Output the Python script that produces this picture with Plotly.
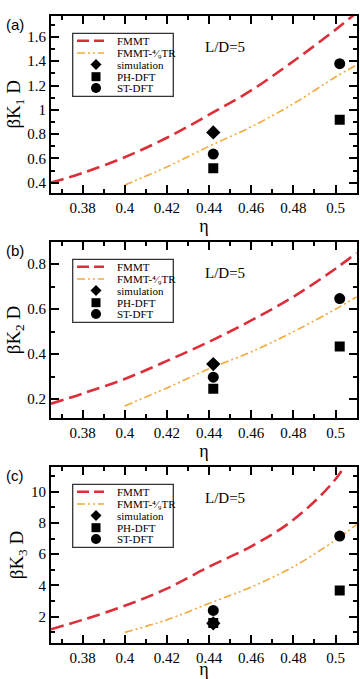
import plotly.graph_objects as go

# ---------------- data ----------------
eta_fmmt = [0.365, 0.38, 0.40, 0.42, 0.44, 0.46, 0.48, 0.50, 0.51]
k1_fmmt = [0.40, 0.48, 0.61, 0.77, 0.96, 1.16, 1.40, 1.66, 1.80]
k2_fmmt = [0.18, 0.225, 0.29, 0.37, 0.455, 0.55, 0.655, 0.78, 0.85]
k3_fmmt = [1.2, 1.8, 2.7, 3.8, 5.2, 6.5, 8.2, 10.8, 13.0]

eta_tr = [0.40, 0.42, 0.44, 0.46, 0.48, 0.50, 0.51]
k1_tr = [0.38, 0.53, 0.70, 0.86, 1.05, 1.27, 1.37]
k2_tr = [0.17, 0.25, 0.335, 0.41, 0.50, 0.60, 0.655]
k3_tr = [1.0, 1.8, 2.85, 3.9, 5.2, 6.9, 7.9]

eta_sim = [0.442]
eta_dft = [0.442, 0.502]
k1_sim = [0.814]
k1_ph = [0.518, 0.918]
k1_st = [0.636, 1.38]
k2_sim = [0.356]
k2_ph = [0.246, 0.434]
k2_st = [0.298, 0.647]
k3_sim = [1.58]
k3_ph = [1.6, 3.68]
k3_st = [2.4, 7.16]

panel_labels = ["(a)", "(b)", "(c)"]
y_titles = ["βK<sub>1</sub> D", "βK<sub>2</sub> D", "βK<sub>3</sub> D"]
legend_labels = ["FMMT", "FMMT-⁴⁄₉TR", "simulation", "PH-DFT", "ST-DFT"]
note_text = "L/D=5"

panels = [
    (k1_fmmt, k1_tr, k1_sim, k1_ph, k1_st),
    (k2_fmmt, k2_tr, k2_sim, k2_ph, k2_st),
    (k3_fmmt, k3_tr, k3_sim, k3_ph, k3_st),
]

# ---------------- layout geometry ----------------
W, H = 360, 679
X0, X1 = 51, 357
panel_px = [(15.7, 193.0), (241.7, 418.3), (466.7, 643.3)]
y_ranges = [[0.315, 1.775], [0.115, 0.90], [0.30, 11.6]]
y_dticks = [0.2, 0.2, 2]
y_minor = [0.1, 0.1, 1]
x_range = [0.365, 0.5102]

RED = "#dc2f3a"
ORANGE = "#f2a93b"
SERIF = "Liberation Serif"

fig = go.Figure()

for i, (kf, kt, ks, kp, kst) in enumerate(panels):
    xa = "x" if i == 0 else f"x{i+1}"
    ya = "y" if i == 0 else f"y{i+1}"
    fig.add_trace(go.Scatter(x=eta_fmmt, y=kf, mode="lines", line=dict(color=RED, width=2.6, dash="13px,6px", shape="spline"),
                             xaxis=xa, yaxis=ya, showlegend=False))
    fig.add_trace(go.Scatter(x=eta_tr, y=kt, mode="lines", line=dict(color=ORANGE, width=1.6, dash="8px,3px,2px,3px,2px,3px", shape="spline"),
                             xaxis=xa, yaxis=ya, showlegend=False))
    fig.add_trace(go.Scatter(x=eta_dft, y=kp, mode="markers", marker=dict(symbol="square", size=10, color="black"),
                             xaxis=xa, yaxis=ya, showlegend=False))
    fig.add_trace(go.Scatter(x=eta_dft, y=kst, mode="markers", marker=dict(symbol="circle", size=11, color="black"),
                             xaxis=xa, yaxis=ya, showlegend=False))
    fig.add_trace(go.Scatter(x=eta_sim, y=ks, mode="markers", marker=dict(symbol="diamond", size=11, color="black"),
                             xaxis=xa, yaxis=ya, showlegend=False))

axis_common = dict(
    showline=True, linecolor="black", linewidth=2, mirror="ticks",
    ticks="inside", ticklen=8, tickwidth=1.5, tickcolor="black",
    showgrid=False, zeroline=False,
    tickfont=dict(family=SERIF, size=15, color="black"),
)

layout = dict(width=W, height=H, margin=dict(l=0, r=0, t=0, b=0),
              plot_bgcolor="white", paper_bgcolor="white", showlegend=False)

shapes = []
annotations = []

for i in range(3):
    top, bot = panel_px[i]
    xk = "xaxis" if i == 0 else f"xaxis{i+1}"
    yk = "yaxis" if i == 0 else f"yaxis{i+1}"
    ya = "y" if i == 0 else f"y{i+1}"
    xa = "x" if i == 0 else f"x{i+1}"
    layout[xk] = dict(axis_common, domain=[X0 / W, X1 / W], range=x_range, anchor=ya,
                      tickvals=[0.38, 0.40, 0.42, 0.44, 0.46, 0.48, 0.50],
                      ticktext=["0.38", "0.4", "0.42", "0.44", "0.46", "0.48", "0.5"],
                      minor=dict(ticks="inside", ticklen=4, tickwidth=1.5, tickcolor="black", dtick=0.01, tick0=0.37),
                      title=dict(text="η", font=dict(family=SERIF, size=18, color="black"), standoff=1))
    layout[yk] = dict(axis_common, domain=[1 - bot / H, 1 - top / H], range=y_ranges[i], anchor=xa,
                      dtick=y_dticks[i], tick0=0,
                      minor=dict(ticks="inside", ticklen=4, tickwidth=1.5, tickcolor="black", dtick=y_minor[i], tick0=0),
                      title=dict(text=y_titles[i], font=dict(family=SERIF, size=19, color="black"), standoff=2))

    ph = bot - top
    pw = X1 - X0

    def dx(px):
        return (px - X0) / pw

    def dy(px):
        return (bot - (top + px)) / ph

    xref = f"{xa} domain"
    yref = f"{ya} domain"

    # panel label
    annotations.append(dict(text=panel_labels[i], x=15 / W, y=1 - (top + 8.5) / H, xref="paper", yref="paper",
                            showarrow=False, font=dict(family="Liberation Sans", size=15, color="black"),
                            xanchor="center", yanchor="middle"))
    # L/D note
    annotations.append(dict(text=note_text, x=dx(225), y=dy(31), xref=xref, yref=yref, showarrow=False,
                            font=dict(family=SERIF, size=15, color="black"), xanchor="center", yanchor="middle"))
    # legend box
    shapes.append(dict(type="rect", xref=xref, yref=yref, x0=dx(72.7), x1=dx(173.3), y0=dy(17.6), y1=dy(80.7),
                       line=dict(color="#333333", width=1.3), fillcolor="white", layer="above"))
    # legend lines
    shapes.append(dict(type="line", xref=xref, yref=yref, x0=dx(77), x1=dx(104), y0=dy(25), y1=dy(25),
                       line=dict(color=RED, width=2.6, dash="12px,5px"), layer="above"))
    shapes.append(dict(type="line", xref=xref, yref=yref, x0=dx(77), x1=dx(104), y0=dy(37.3), y1=dy(37.3),
                       line=dict(color=ORANGE, width=1.6, dash="8px,3px,2px,3px,2px,3px"), layer="above"))
    # legend symbols
    cx = 96
    d = 5.5
    yd = 48.8
    shapes.append(dict(type="path", xref=xref, yref=yref, layer="above", fillcolor="black", line=dict(width=0),
                       path=f"M {dx(cx)},{dy(yd - d)} L {dx(cx + d)},{dy(yd)} L {dx(cx)},{dy(yd + d)} L {dx(cx - d)},{dy(yd)} Z"))
    s = 4.5
    ys = 61
    shapes.append(dict(type="rect", xref=xref, yref=yref, layer="above", fillcolor="black", line=dict(width=0),
                       x0=dx(cx - s), x1=dx(cx + s), y0=dy(ys - s), y1=dy(ys + s)))
    r = 5
    yc = 72.3
    shapes.append(dict(type="circle", xref=xref, yref=yref, layer="above", fillcolor="black", line=dict(width=0),
                       x0=dx(cx - r), x1=dx(cx + r), y0=dy(yc - r), y1=dy(yc + r)))
    # legend texts
    for lab, yy in zip(legend_labels, [25, 37.3, 49.3, 61, 72.6]):
        annotations.append(dict(text=lab, x=dx(115), y=dy(yy), xref=xref, yref=yref, showarrow=False,
                                font=dict(family=SERIF, size=11, color="black"), xanchor="left", yanchor="middle"))

layout["shapes"] = shapes
layout["annotations"] = annotations
fig.update_layout(**layout)

fig.write_html("out.html")
